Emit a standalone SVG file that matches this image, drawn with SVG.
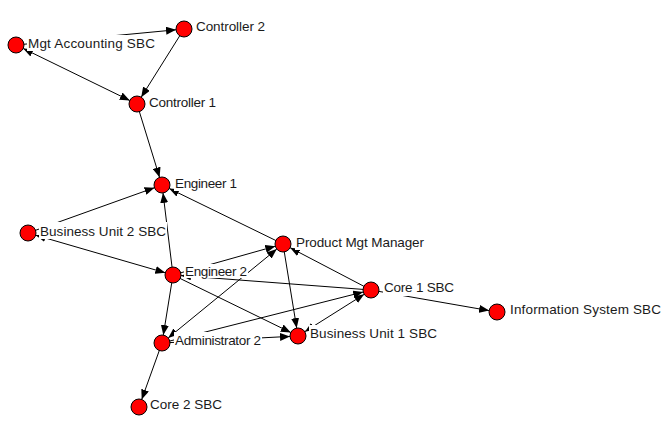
<svg xmlns="http://www.w3.org/2000/svg" width="667" height="428" viewBox="0 0 667 428">
  <defs>
    <marker id="arrow" markerUnits="userSpaceOnUse" markerWidth="10" markerHeight="8" refX="10" refY="4" orient="auto-start-reverse">
      <path d="M0,0 L10,4 L0,8 Z" fill="#000"/>
    </marker>
    <style>
      .edge { stroke: #000; stroke-width: 1; fill: none; }
      .fwd { marker-end: url(#arrow); }
      .both { marker-start: url(#arrow); marker-end: url(#arrow); }
      .node circle { fill: #ff0000; stroke: #000; stroke-width: 1; }
      .node rect { fill: #fff; }
      .node text { font-family: "Liberation Sans", Arial, sans-serif; font-size: 13.5px; fill: #1a1a1a; }
    </style>
  </defs>
  <rect width="667" height="428" fill="#fff"/>

  <g id="edges">
    <line class="edge fwd" x1="16" y1="45" x2="176" y2="29.8"/>
    <line class="edge both" x1="23.2" y1="48.5" x2="129.8" y2="100.5"/>
    <line class="edge fwd" x1="184" y1="29" x2="141.2" y2="97.2"/>
    <line class="edge fwd" x1="137" y1="104" x2="159.6" y2="177.4"/>
    <line class="edge fwd" x1="28" y1="233" x2="154.5" y2="187.7"/>
    <line class="edge fwd" x1="173" y1="275" x2="163" y2="192.9"/>
    <line class="edge fwd" x1="283" y1="244" x2="169.2" y2="188.5"/>
    <line class="edge both" x1="35.7" y1="235.2" x2="165.3" y2="272.8"/>
    <line class="edge fwd" x1="173" y1="275" x2="163.3" y2="335.1"/>
    <line class="edge fwd" x1="173" y1="275" x2="290.8" y2="332.5"/>
    <line class="edge fwd" x1="173" y1="275" x2="275.3" y2="246.2"/>
    <line class="edge fwd" x1="371" y1="290" x2="181" y2="275.6"/>
    <line class="edge both" x1="168.2" y1="337.9" x2="276.8" y2="249.1"/>
    <line class="edge fwd" x1="162" y1="343" x2="290" y2="336.4"/>
    <line class="edge fwd" x1="162" y1="343" x2="363.2" y2="292"/>
    <line class="edge both" x1="304.8" y1="331.7" x2="364.2" y2="294.3"/>
    <line class="edge fwd" x1="371" y1="290" x2="290.1" y2="247.7"/>
    <line class="edge fwd" x1="283" y1="244" x2="296.7" y2="328.1"/>
    <line class="edge fwd" x1="371" y1="290" x2="489.1" y2="310.6"/>
    <line class="edge fwd" x1="162" y1="343" x2="141.7" y2="399.5"/>
  </g>

  <g id="mgt-accounting-sbc" class="node">
    <circle cx="16" cy="45" r="8"/>
    <rect x="27" y="35" width="129" height="16"/>
    <text x="28" y="48" textLength="127">Mgt Accounting SBC</text>
  </g>
  <g id="controller-2" class="node">
    <circle cx="184" cy="29" r="8"/>
    <rect x="195" y="17" width="71" height="17"/>
    <text x="196" y="31" textLength="69">Controller 2</text>
  </g>
  <g id="controller-1" class="node">
    <circle cx="137" cy="104" r="8"/>
    <rect x="148" y="93" width="69" height="17"/>
    <text x="149" y="107" textLength="67">Controller 1</text>
  </g>
  <g id="engineer-1" class="node">
    <circle cx="162" cy="185" r="8"/>
    <rect x="174" y="174" width="64" height="17"/>
    <text x="175" y="188" textLength="62">Engineer 1</text>
  </g>
  <g id="business-unit-2-sbc" class="node">
    <circle cx="28" cy="233" r="8"/>
    <rect x="39" y="222" width="128" height="17"/>
    <text x="40" y="236" textLength="126">Business Unit 2 SBC</text>
  </g>
  <g id="engineer-2" class="node">
    <circle cx="173" cy="275" r="8"/>
    <rect x="184" y="264" width="64" height="14"/>
    <text x="185" y="276" textLength="62">Engineer 2</text>
  </g>
  <g id="product-mgt-manager" class="node">
    <circle cx="283" cy="244" r="8"/>
    <rect x="295" y="233" width="130" height="17"/>
    <text x="296" y="247" textLength="128">Product Mgt Manager</text>
  </g>
  <g id="core-1-sbc" class="node">
    <circle cx="371" cy="290" r="8"/>
    <rect x="383" y="279" width="72" height="17"/>
    <text x="384" y="292" textLength="70">Core 1 SBC</text>
  </g>
  <g id="information-system-sbc" class="node">
    <circle cx="497" cy="312" r="8"/>
    <rect x="509" y="301" width="153" height="17"/>
    <text x="510" y="314" textLength="151">Information System SBC</text>
  </g>
  <g id="business-unit-1-sbc" class="node">
    <circle cx="298" cy="336" r="8"/>
    <rect x="309" y="325" width="129" height="17"/>
    <text x="310" y="338" textLength="127">Business Unit 1 SBC</text>
  </g>
  <g id="administrator-2" class="node">
    <circle cx="162" cy="343" r="8"/>
    <rect x="174" y="332" width="88" height="16"/>
    <text x="175" y="345" textLength="86">Administrator 2</text>
  </g>
  <g id="core-2-sbc" class="node">
    <circle cx="139" cy="407" r="8"/>
    <rect x="149" y="396" width="74" height="17"/>
    <text x="150" y="409" textLength="72">Core 2 SBC</text>
  </g>
</svg>
